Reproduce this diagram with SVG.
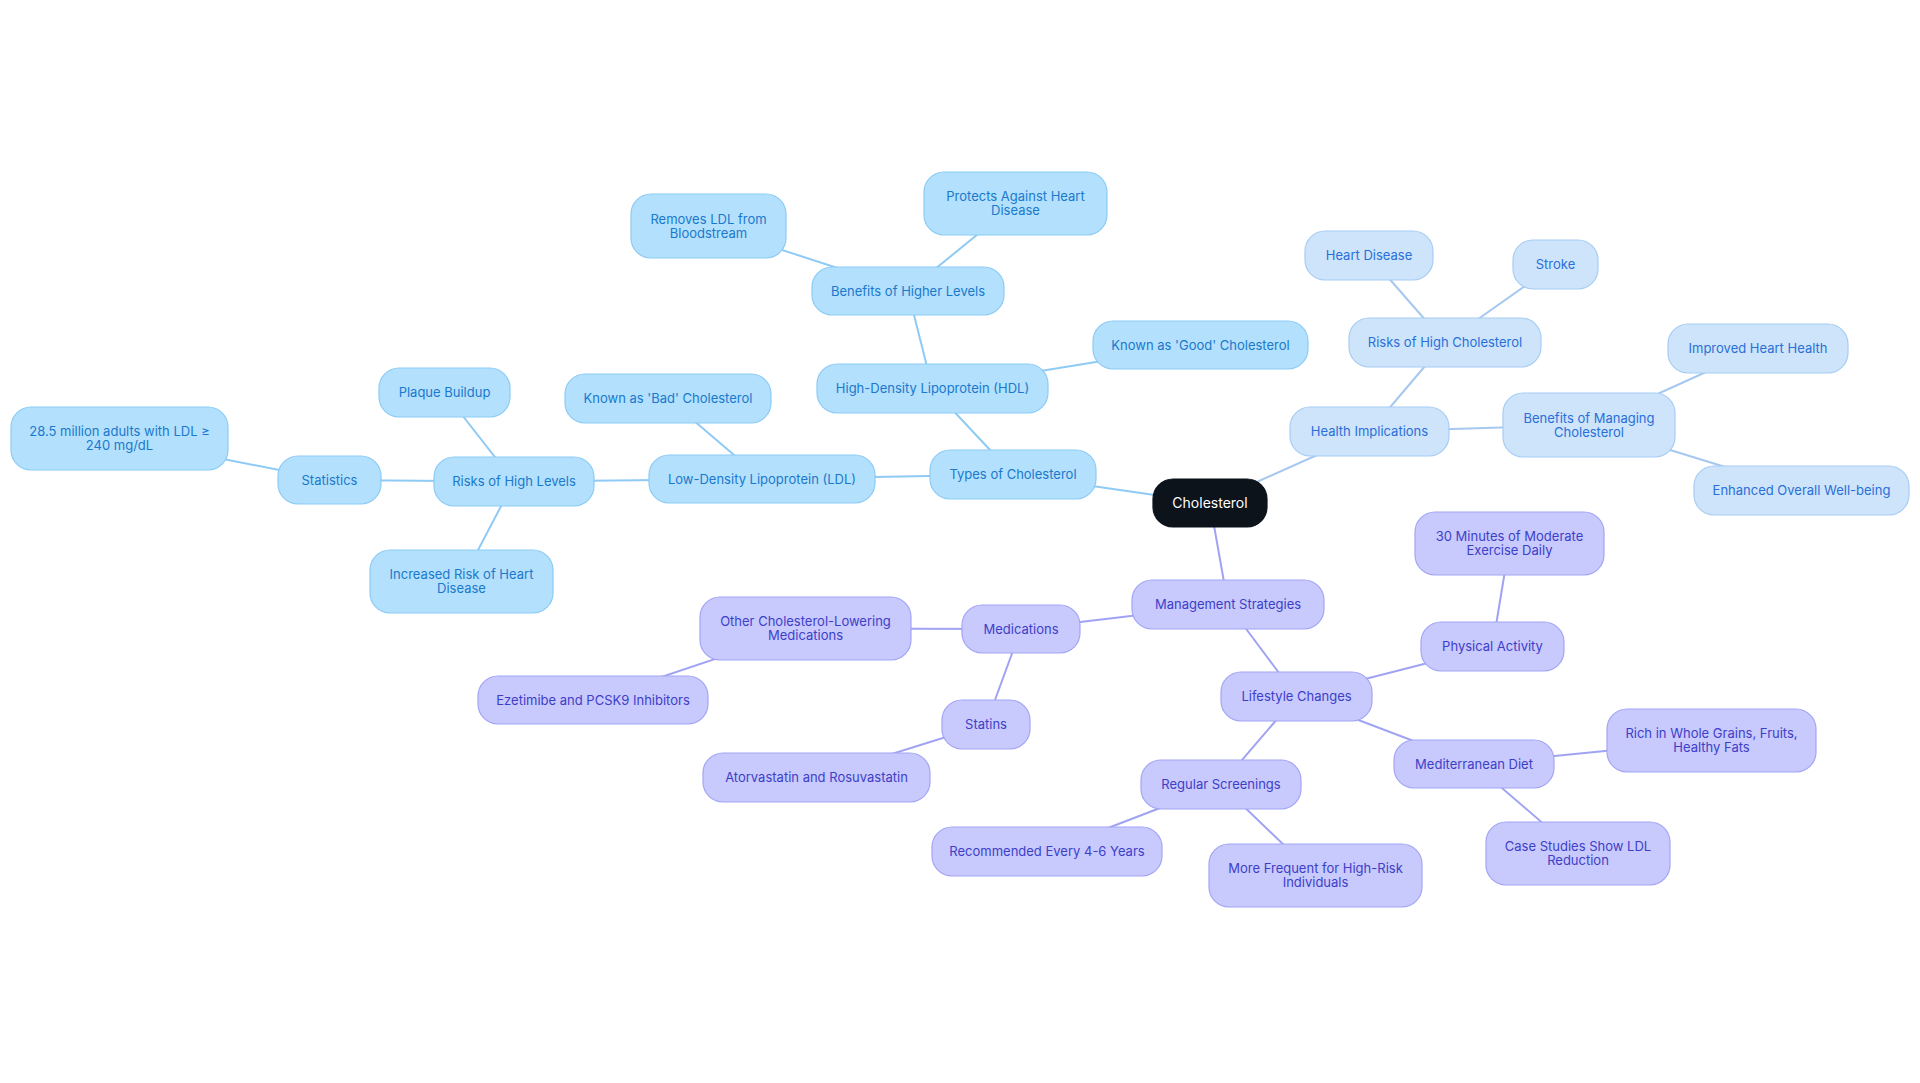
<svg xmlns="http://www.w3.org/2000/svg" width="1920" height="1083" viewBox="0 0 1920 1083">
<style>
text{font-family:Inter,"Noto Sans","Liberation Sans",sans-serif;font-size:13px;text-anchor:middle}
rect{stroke-width:1.2}
.b rect{fill:#b3e0fd;stroke:#8ccbf5}
.b text{fill:#1a79cc}
.h rect{fill:#cde4fb;stroke:#a8ccf3}
.h text{fill:#2a6fd8}
.p rect{fill:#c8c9fd;stroke:#a3a5f5}
.p text{fill:#3d3fc8}
.c rect{fill:#0d131b;stroke:#0d131b}
.c text{fill:#ffffff;font-size:14px}
#edges line{stroke-width:2;fill:none}
.eb{stroke:#8fcaf5}
.eh{stroke:#a6c8f0}
.ep{stroke:#a0a3f3}
</style>
<rect width="1920" height="1083" fill="#ffffff"/>
<g id="edges">
<line class="eb" x1="1210" y1="503" x2="1013" y2="474.5"/>
<line class="eb" x1="1013" y1="474.5" x2="762" y2="479"/>
<line class="eb" x1="1013" y1="474.5" x2="932.5" y2="388.5"/>
<line class="eb" x1="762" y1="479" x2="668" y2="398.5"/>
<line class="eb" x1="762" y1="479" x2="514" y2="481.5"/>
<line class="eb" x1="514" y1="481.5" x2="329.5" y2="480"/>
<line class="eb" x1="329.5" y1="480" x2="119.5" y2="438.5"/>
<line class="eb" x1="514" y1="481.5" x2="444.5" y2="392.5"/>
<line class="eb" x1="514" y1="481.5" x2="461.5" y2="581.5"/>
<line class="eb" x1="932.5" y1="388.5" x2="908" y2="291"/>
<line class="eb" x1="908" y1="291" x2="708.5" y2="226"/>
<line class="eb" x1="908" y1="291" x2="1015.5" y2="203.5"/>
<line class="eb" x1="932.5" y1="388.5" x2="1200.5" y2="345"/>
<line class="eh" x1="1210" y1="503" x2="1369.5" y2="431.5"/>
<line class="eh" x1="1369.5" y1="431.5" x2="1445" y2="342.5"/>
<line class="eh" x1="1445" y1="342.5" x2="1369" y2="255.5"/>
<line class="eh" x1="1445" y1="342.5" x2="1555.5" y2="264.5"/>
<line class="eh" x1="1369.5" y1="431.5" x2="1589" y2="425"/>
<line class="eh" x1="1589" y1="425" x2="1758" y2="348.5"/>
<line class="eh" x1="1589" y1="425" x2="1801.5" y2="490.5"/>
<line class="ep" x1="1210" y1="503" x2="1228" y2="604.5"/>
<line class="ep" x1="1228" y1="604.5" x2="1021" y2="629"/>
<line class="ep" x1="1021" y1="629" x2="805.5" y2="628.5"/>
<line class="ep" x1="805.5" y1="628.5" x2="593" y2="700"/>
<line class="ep" x1="1021" y1="629" x2="986" y2="724.5"/>
<line class="ep" x1="986" y1="724.5" x2="816.5" y2="777.5"/>
<line class="ep" x1="1228" y1="604.5" x2="1296.5" y2="696.5"/>
<line class="ep" x1="1296.5" y1="696.5" x2="1492.5" y2="646.5"/>
<line class="ep" x1="1492.5" y1="646.5" x2="1509.5" y2="543.5"/>
<line class="ep" x1="1296.5" y1="696.5" x2="1474" y2="764"/>
<line class="ep" x1="1474" y1="764" x2="1711.5" y2="740.5"/>
<line class="ep" x1="1474" y1="764" x2="1578" y2="853.5"/>
<line class="ep" x1="1296.5" y1="696.5" x2="1221" y2="784.5"/>
<line class="ep" x1="1221" y1="784.5" x2="1047" y2="851.5"/>
<line class="ep" x1="1221" y1="784.5" x2="1315.5" y2="875.5"/>
</g>

<g id="n-center" class="c"><rect x="1153" y="479" width="114" height="48" rx="20"/><text x="1210" y="508">Cholesterol</text></g>

<g id="n-types" class="b"><rect x="930" y="450" width="166" height="49" rx="20"/><text x="1013" y="479">Types of Cholesterol</text></g>
<g id="n-ldl" class="b"><rect x="649" y="455" width="226" height="48" rx="20"/><text x="762" y="483.5">Low-Density Lipoprotein (LDL)</text></g>
<g id="n-hdl" class="b"><rect x="817" y="364" width="231" height="49" rx="20"/><text x="932.5" y="393">High-Density Lipoprotein (HDL)</text></g>
<g id="n-bad" class="b"><rect x="565" y="374" width="206" height="49" rx="20"/><text x="668" y="403">Known as 'Bad' Cholesterol</text></g>
<g id="n-risks-levels" class="b"><rect x="434" y="457" width="160" height="49" rx="20"/><text x="514" y="486">Risks of High Levels</text></g>
<g id="n-stats" class="b"><rect x="278" y="456" width="103" height="48" rx="20"/><text x="329.5" y="484.5">Statistics</text></g>
<g id="n-285" class="b"><rect x="11" y="407" width="217" height="63" rx="20"/><text x="119.5" y="436">28.5 million adults with LDL ≥</text><text x="119.5" y="450">240 mg/dL</text></g>
<g id="n-plaque" class="b"><rect x="379" y="368" width="131" height="49" rx="20"/><text x="444.5" y="397">Plaque Buildup</text></g>
<g id="n-incr" class="b"><rect x="370" y="550" width="183" height="63" rx="20"/><text x="461.5" y="579">Increased Risk of Heart</text><text x="461.5" y="593">Disease</text></g>
<g id="n-benefits-higher" class="b"><rect x="812" y="267" width="192" height="48" rx="20"/><text x="908" y="295.5">Benefits of Higher Levels</text></g>
<g id="n-removes" class="b"><rect x="631" y="194" width="155" height="64" rx="20"/><text x="708.5" y="223.5">Removes LDL from</text><text x="708.5" y="237.5">Bloodstream</text></g>
<g id="n-protects" class="b"><rect x="924" y="172" width="183" height="63" rx="20"/><text x="1015.5" y="201">Protects Against Heart</text><text x="1015.5" y="215">Disease</text></g>
<g id="n-good" class="b"><rect x="1093" y="321" width="215" height="48" rx="20"/><text x="1200.5" y="349.5">Known as 'Good' Cholesterol</text></g>

<g id="n-health" class="h"><rect x="1290" y="407" width="159" height="49" rx="20"/><text x="1369.5" y="436">Health Implications</text></g>
<g id="n-risks-chol" class="h"><rect x="1349" y="318" width="192" height="49" rx="20"/><text x="1445" y="347">Risks of High Cholesterol</text></g>
<g id="n-heart" class="h"><rect x="1305" y="231" width="128" height="49" rx="20"/><text x="1369" y="260">Heart Disease</text></g>
<g id="n-stroke" class="h"><rect x="1513" y="240" width="85" height="49" rx="20"/><text x="1555.5" y="269">Stroke</text></g>
<g id="n-benefits-managing" class="h"><rect x="1503" y="393" width="172" height="64" rx="20"/><text x="1589" y="422.5">Benefits of Managing</text><text x="1589" y="436.5">Cholesterol</text></g>
<g id="n-improved" class="h"><rect x="1668" y="324" width="180" height="49" rx="20"/><text x="1758" y="353">Improved Heart Health</text></g>
<g id="n-enhanced" class="h"><rect x="1694" y="466" width="215" height="49" rx="20"/><text x="1801.5" y="495">Enhanced Overall Well-being</text></g>

<g id="n-management" class="p"><rect x="1132" y="580" width="192" height="49" rx="20"/><text x="1228" y="609">Management Strategies</text></g>
<g id="n-meds" class="p"><rect x="962" y="605" width="118" height="48" rx="20"/><text x="1021" y="633.5">Medications</text></g>
<g id="n-other" class="p"><rect x="700" y="597" width="211" height="63" rx="20"/><text x="805.5" y="626">Other Cholesterol-Lowering</text><text x="805.5" y="640">Medications</text></g>
<g id="n-ezetimibe" class="p"><rect x="478" y="676" width="230" height="48" rx="20"/><text x="593" y="704.5">Ezetimibe and PCSK9 Inhibitors</text></g>
<g id="n-statins" class="p"><rect x="942" y="700" width="88" height="49" rx="20"/><text x="986" y="729">Statins</text></g>
<g id="n-atorva" class="p"><rect x="703" y="753" width="227" height="49" rx="20"/><text x="816.5" y="782">Atorvastatin and Rosuvastatin</text></g>
<g id="n-lifestyle" class="p"><rect x="1221" y="672" width="151" height="49" rx="20"/><text x="1296.5" y="701">Lifestyle Changes</text></g>
<g id="n-physical" class="p"><rect x="1421" y="622" width="143" height="49" rx="20"/><text x="1492.5" y="651">Physical Activity</text></g>
<g id="n-30min" class="p"><rect x="1415" y="512" width="189" height="63" rx="20"/><text x="1509.5" y="541">30 Minutes of Moderate</text><text x="1509.5" y="555">Exercise Daily</text></g>
<g id="n-med-diet" class="p"><rect x="1394" y="740" width="160" height="48" rx="20"/><text x="1474" y="768.5">Mediterranean Diet</text></g>
<g id="n-rich" class="p"><rect x="1607" y="709" width="209" height="63" rx="20"/><text x="1711.5" y="738">Rich in Whole Grains, Fruits,</text><text x="1711.5" y="752">Healthy Fats</text></g>
<g id="n-case" class="p"><rect x="1486" y="822" width="184" height="63" rx="20"/><text x="1578" y="851">Case Studies Show LDL</text><text x="1578" y="865">Reduction</text></g>
<g id="n-screen" class="p"><rect x="1141" y="760" width="160" height="49" rx="20"/><text x="1221" y="789">Regular Screenings</text></g>
<g id="n-recommended" class="p"><rect x="932" y="827" width="230" height="49" rx="20"/><text x="1047" y="856">Recommended Every 4-6 Years</text></g>
<g id="n-frequent" class="p"><rect x="1209" y="844" width="213" height="63" rx="20"/><text x="1315.5" y="873">More Frequent for High-Risk</text><text x="1315.5" y="887">Individuals</text></g>
</svg>
